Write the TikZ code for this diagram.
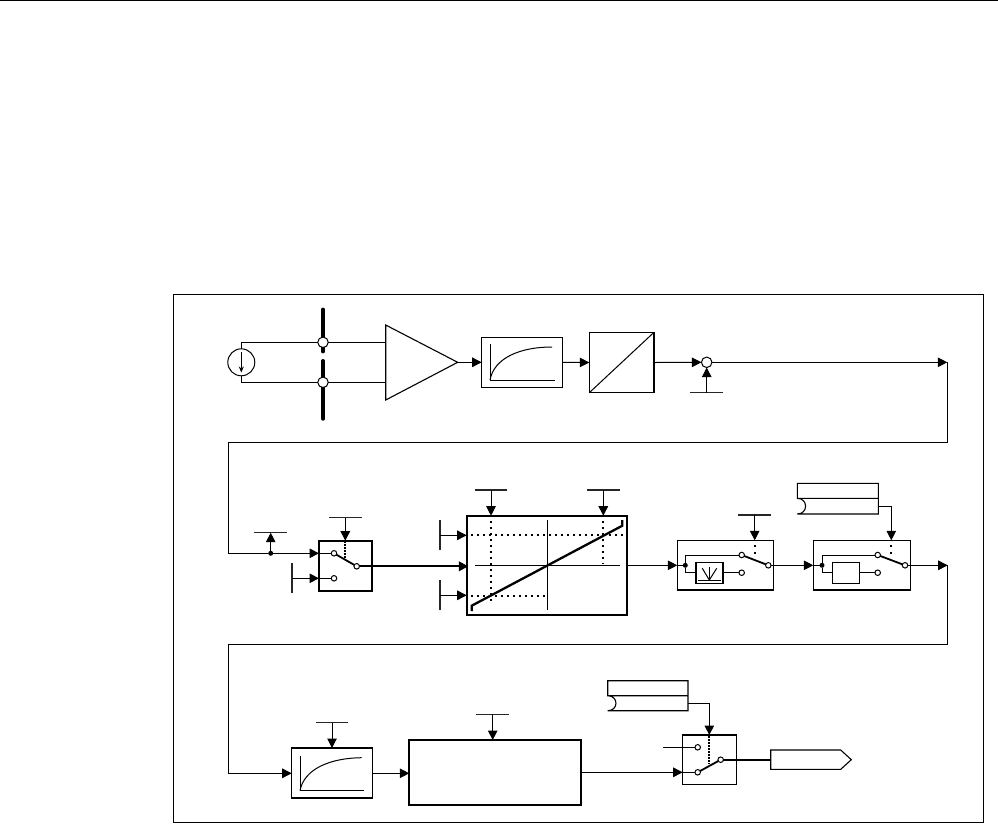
\documentclass[tikz,border=0pt]{standalone}
\usetikzlibrary{arrows.meta,calc}
\tikzset{
  wire/.style={line width=1pt,black},
  arr/.style={wire,-{Triangle[length=9.5pt,width=9.5pt]}},
  thickwire/.style={line width=2.2pt,black},
  barline/.style={line width=1.1pt,black!85},
  bx/.style={draw,line width=1.1pt,fill=white,inner sep=0pt,outer sep=0pt,rectangle},
  heavybx/.style={bx,line width=1.7pt},
  contact/.style={circle,draw,fill=white,line width=1pt,inner sep=0pt,outer sep=0pt,minimum size=5.5pt},
  joint/.style={circle,fill=black,inner sep=0pt,outer sep=0pt,minimum size=5pt},
  sumdot/.style={circle,draw,fill=white,line width=1pt,inner sep=0pt,outer sep=0pt,minimum size=10.5pt},
  dots/.style={line width=2pt,black,dash pattern=on 2pt off 4pt},
  thin dots/.style={line width=2pt,black,dash pattern=on 1.5pt off 1.5pt},
  lever/.style={line width=1.8pt,black},
  curve/.style={line width=1pt,black},
}
\newcommand{\bxn}[6][bx]{\node[#1,minimum width={(#5-#3)*1pt},minimum height={(#6-#4)*1pt}] (#2) at ({(#3+#5)/2},{(#4+#6)/2}) {};}
\newcommand{\hbarln}[3]{\coordinate (#1) at (#2,#3); \draw[barline] ([xshift=-16.3pt]#1) -- ([xshift=16.3pt]#1);}
\newcommand{\vbarln}[3]{\coordinate (#1) at (#2,#3); \draw[barline] ([yshift=-15pt]#1) -- ([yshift=15pt]#1);}
\newcommand{\tagbox}[6]{%
  \coordinate (#1) at (#2,#5);
  \draw[line width=1.1pt,black] (#2,#5) -- (#3,#5) (#2,#4) rectangle (#3,#5) (#3,#5) -- (#3,#6) -- (#2,#6)
    .. controls ({#2+11},#6) and ({#2+11},#5) .. (#2,#5);}
\begin{document}
\begin{tikzpicture}[x=1pt,y=-1pt]
\useasboundingbox (0,0) rectangle (998,823);
\fill[white] (0,0) rectangle (998,823);
\coordinate (tl) at (0,0.7); \coordinate (tr) at (998,0.7);
\draw[line width=1.4pt,black] (tl) -- (tr);
\node[bx,minimum width=809.5pt,minimum height=528pt] (frame) at (578.5,558.5) {};

% --- row 1
\node[circle,draw,line width=1pt,inner sep=0pt,outer sep=0pt,minimum size=27pt] (src) at (241.3,362.3) {};
\coordinate (srcA) at (241.3,352); \coordinate (srcB) at (241.3,372.5);
\draw[wire,-{Stealth[length=6pt,width=5pt]}] (srcA) -- (srcB);
\coordinate (bus1t) at (323,309.3); \coordinate (bus1b) at (323,351.7);
\coordinate (bus2t) at (323,360.7); \coordinate (bus2b) at (323,419);
\draw[line width=3.4pt,black,line cap=round] (bus1t) -- (bus1b);
\draw[line width=3.4pt,black,line cap=round] (bus2t) -- (bus2b);
\coordinate (ampA) at (385.7,325); \coordinate (ampB) at (385.7,400); \coordinate (ampO) at (457.7,362.3);
\coordinate (ampI1) at (385.7,342.3); \coordinate (ampI2) at (385.7,382.3);
\draw[line width=1.1pt,black,line join=miter] (ampA) -- (ampO) -- (ampB) -- cycle;
\node[sumdot] (j1) at (323,342.3) {};
\node[sumdot] (j2) at (323,382.3) {};
\draw[wire] (src.north) |- (j1);
\draw[wire] (src.south) |- (j2);
\draw[wire] (j1) -- (ampI1);
\draw[wire] (j2) -- (ampI2);
\bxn{filt}{481.7}{337.3}{562.3}{387.3}
\coordinate (filtT) at (490,344); \coordinate (filtO) at (490,380); \coordinate (filtR) at (555,380);
\draw[curve] (filtT) -- (filtO) -- (filtR);
\draw[curve] (filtO) .. controls (494,358) and (520,347) .. (552,347);
\draw[arr] (ampO) -- (filt.west);
\bxn{adc}{589.3}{332.3}{654}{392.7}
\draw[wire] (adc.south west) -- (adc.north east);
\draw[arr] (filt.east) -- (adc.west);
\node[sumdot] (sum) at (706.7,362.3) {};
\draw[arr] (adc.east) -- (sum.west);
\hbarln{sumT}{706.7}{392.7}
\draw[arr] (sumT) -- (sum.south);
\coordinate (r1e) at (947.3,362.3); \coordinate (r1d) at (947.3,442.7);
\coordinate (r1l) at (228.3,442.7); \coordinate (r2s) at (228.3,553.3);
\draw[arr] (sum.east) -- (r1e);
\draw[wire] (r1e) -- (r1d) -- (r1l) -- (r2s);

% --- row 2
\bxn[heavybx]{sw1}{319}{540.7}{372.3}{591}
\node[contact] (s1a) at (334,553.3) {};
\node[contact] (s1b) at (334,578.3) {};
\node[contact] (s1o) at (356.7,566.3) {};
\draw[lever] (s1a) -- (s1o);
\node[joint] (tap) at (270.7,553.3) {};
\draw[wire] (r2s) -- (tap);
\draw[arr] (tap) -- (319,553.3);
\draw[wire] (319,553.3) -- (s1a);
\hbarln{tapT}{270.7}{532.7}
\draw[arr] (tap) -- (tapT);
\hbarln{s1T}{345.3}{517.7}
\draw[arr] (s1T) -- (345.3,540.7);
\draw[thin dots] (345.3,541) -- (345.3,560);
\vbarln{s1L}{292}{578.3}
\draw[arr] (s1L) -- (319,578.3);
\draw[wire] (319,578.3) -- (s1b);
\bxn[heavybx]{map}{466.7}{515.7}{627.3}{615.3}
\draw[thickwire,-{Triangle[length=9.5pt,width=9.5pt]}] (s1o) -- (468.3,566.3);
\coordinate (mapL) at (475,565.3); \coordinate (mapR) at (620,565.3);
\coordinate (mapT) at (547.7,520); \coordinate (mapB) at (547.7,610);
\draw[wire] (mapL) -- (mapR);
\draw[wire] (mapT) -- (mapB);
\draw[dots] (491,521) -- (491,602.7);
\draw[dots] (603.3,521) -- (603.3,563.3);
\draw[dots] (471,535.3) -- (627,535.3);
\draw[dots] (471,595.7) -- (546.7,595.7);
\coordinate (k1) at (471.7,611); \coordinate (k2) at (471.7,605.7);
\coordinate (k3) at (622.3,525.7); \coordinate (k4) at (622.3,520);
\draw[line width=2.3pt,black,line join=miter] (k1) -- (k2) -- (k3) -- (k4);
\hbarln{mapT1}{491}{490}
\hbarln{mapT2}{603.3}{490}
\draw[arr] (mapT1) -- (491,515.7);
\draw[arr] (mapT2) -- (603.3,515.7);
\vbarln{mapL1}{440}{535.3}
\vbarln{mapL2}{440}{595.3}
\draw[arr] (mapL1) -- (466.7,535.3);
\draw[arr] (mapL2) -- (466.7,595.3);

\bxn{sw2}{677.3}{540.3}{773.3}{590}
\draw[arr] (map.east |- mapR) -- (sw2.west |- mapR);
\node[joint] (j3) at (685.3,565.3) {};
\draw[wire] (677.3,565.3) -- (j3);
\node[contact] (s2a) at (741.7,555) {};
\node[contact] (s2b) at (741.7,572.7) {};
\node[contact] (s2o) at (768.3,565.3) {};
\draw[lever] (s2a) -- (s2o);
\bxn{fan}{696}{562.7}{723}{583.3}
\draw[wire] (j3) |- (s2a);
\draw[wire] (j3) |- (fan.west |- s2b);
\draw[wire] (fan.east |- s2b) -- (s2b);
\coordinate (fanB) at (709.3,580);
\draw[curve] (698,580) -- (721,580);
\draw[curve] (702.3,568.3) -- (fanB) -- (716.7,568.3);
\draw[curve] (709.3,566.7) -- (fanB);
\hbarln{s2T}{754.7}{515}
\draw[arr] (s2T) -- (754.7,540.3);
\draw[dots,dash pattern=on 2pt off 5.3pt] (754.7,545) -- (754.7,554.5);
\bxn{sw3}{813.3}{540.3}{910.3}{590}
\draw[arr] (s2o) -- (sw3.west |- s2o);
\node[joint] (j4) at (822,565.3) {};
\draw[wire] (813.3,565.3) -- (j4);
\node[contact] (s3a) at (877.7,555) {};
\node[contact] (s3b) at (877.7,572.7) {};
\node[contact] (s3o) at (905,565.3) {};
\draw[lever] (s3a) -- (s3o);
\bxn{blk}{832.3}{562.7}{859.3}{583.3}
\draw[wire] (j4) |- (s3a);
\draw[wire] (j4) |- (blk.west |- s3b);
\draw[wire] (blk.east |- s3b) -- (s3b);
\tagbox{tag1}{797.3}{878.3}{483.3}{498.3}{514}
\coordinate (tag1o) at (878.3,506);
\draw[arr] (tag1o) -| (891.3,540.3);
\draw[dots,dash pattern=on 2pt off 5.3pt] (891.3,545) -- (891.3,554.5);
\coordinate (r2e) at (947.7,565.3); \coordinate (r2d) at (947.7,644);
\coordinate (r2l) at (228.3,644); \coordinate (r3s) at (228.3,773.3);
\draw[arr] (s3o) -- (r2e);
\draw[wire] (r2e) -- (r2d) -- (r2l) -- (r3s);

% --- row 3
\bxn{filt2}{291.7}{748}{372.3}{798}
\coordinate (f2T) at (300,755.7); \coordinate (f2O) at (300,790.7); \coordinate (f2R) at (364.3,790.7);
\draw[curve] (f2T) -- (f2O) -- (f2R);
\draw[curve] (f2O) .. controls (304,769) and (330,758) .. (361.7,757.7);
\draw[arr] (r3s) -- (filt2.west |- r3s);
\hbarln{f2Top}{332}{722.7}
\draw[arr] (f2Top) -- (332,748);
\bxn[heavybx]{big}{409.3}{740}{581.3}{805.3}
\draw[arr] (filt2.east |- r3s) -- (big.west |- r3s);
\hbarln{bigT}{492.7}{714.3}
\draw[arr] (bigT) -- (492.7,740);
\bxn{sw4}{682.7}{735}{736.3}{784.7}
\draw[line width=1.8pt,black] (682.7,735) -- (736.3,735);
\node[contact] (s4a) at (697.7,747.3) {};
\node[contact] (s4b) at (697.7,772.3) {};
\node[contact] (s4o) at (720.7,759.7) {};
\draw[lever] (s4b) -- (s4o);
\coordinate (s4L) at (663.3,747.3);
\draw[wire] (s4L) -- (s4a);
\draw[arr] (big.east |- s4b) -- (682.7,772.3);
\draw[wire] (682.7,772.3) -- (s4b);
\tagbox{tag2}{607.7}{688}{680.7}{695.7}{710.7}
\coordinate (tag2o) at (688,703.3);
\draw[arr] (tag2o) -| (709.3,735);
\draw[thin dots] (709.3,736) -- (709.3,764);
\coordinate (pA) at (770.7,750); \coordinate (pB) at (840.7,750); \coordinate (pC) at (851.3,759.7);
\coordinate (pD) at (840.7,769.3); \coordinate (pE) at (770.7,769.3); \coordinate (pI) at (770.7,759.7);
\draw[line width=1.1pt,black,line join=miter] (pA) -- (pB) -- (pC) -- (pD) -- (pE) -- cycle;
\draw[thickwire] (s4o) -- (pI);
\end{tikzpicture}
\end{document}
